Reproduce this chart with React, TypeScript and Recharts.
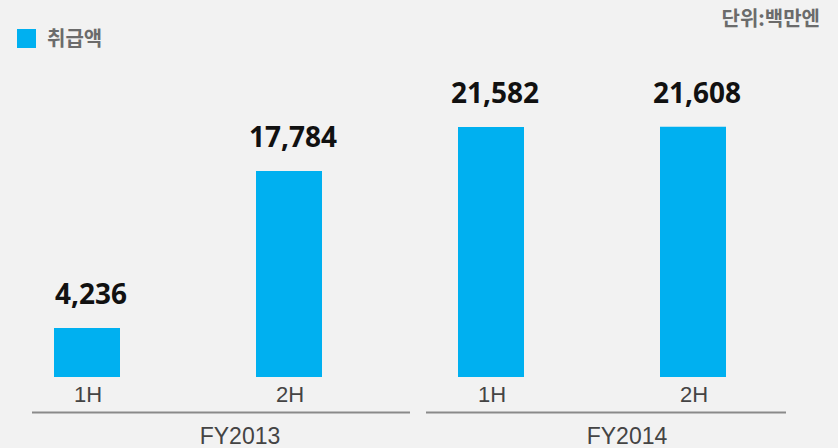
import { BarChart, Bar, XAxis, YAxis, LabelList } from "recharts";

const halves = ["1H", "2H", "1H", "2H"];
const fiscalYears = ["FY2013", "FY2013", "FY2014", "FY2014"];
const amounts = [4236, 17784, 21582, 21608];

const seriesName = "취급액";
const unitLabel = "단위:백만엔";

const data = halves.map((half, i) => ({
  key: `${fiscalYears[i]}-${half}`,
  half,
  fy: fiscalYears[i],
  amount: amounts[i],
}));

// where the group underline and label sit, relative to the group band centre
const groupRules = [
  { from: -156, to: 222, dx: 52 },
  { from: -166, to: 194, dx: 35 },
];

const BLUE = "#00b0f0";

function HalfTick(props: any) {
  const { x, y, index } = props;
  return (
    <text
      x={x + 1}
      y={y + 25}
      textAnchor="middle"
      fill="#444"
      fontSize={22}
      fontFamily="Liberation Sans, Arial, sans-serif"
    >
      {data[index]?.half}
    </text>
  );
}

function YearTick(props: any) {
  const { x, y, index, payload } = props;
  const rule = groupRules[index] || groupRules[0];
  return (
    <g>
      <line x1={x + rule.from} x2={x + rule.to} y1={y + 0.5} y2={y + 0.5} stroke="#8a8a8a" strokeWidth={2} />
      <text
        x={x + rule.dx}
        y={y + 32}
        textAnchor="middle"
        fill="#444"
        fontSize={23}
        fontFamily="Liberation Sans, Arial, sans-serif"
      >
        {payload.value}
      </text>
    </g>
  );
}

export default function App() {
  return (
    <div
      style={{
        position: "absolute",
        left: 0,
        top: 0,
        width: 838,
        height: 448,
        overflow: "hidden",
        background: "#f2f2f2",
      }}
    >
      <div style={{ position: "absolute", left: -14, top: 0 }}>
        <BarChart
          width={852}
          height={448}
          data={data}
          margin={{ top: 64.3, right: 44, left: 0, bottom: 0 }}
          barCategoryGap={68}
        >
          <XAxis
            dataKey="key"
            height={35}
            axisLine={false}
            tickLine={false}
            tickSize={0}
            tickMargin={0}
            interval={0}
            tick={<HalfTick />}
          />
          <XAxis
            xAxisId="fy"
            dataKey="fy"
            allowDuplicatedCategory={false}
            height={36}
            axisLine={false}
            tickLine={false}
            tickSize={0}
            tickMargin={0}
            interval={0}
            tick={<YearTick />}
          />
          <YAxis hide domain={[0, 27000]} />
          <Bar dataKey="amount" fill={BLUE} isAnimationActive={false}>
            <LabelList
              dataKey="amount"
              position="top"
              offset={24}
              dx={4}
              formatter={(v: any) => Number(v).toLocaleString("en-US")}
              fill="#111"
              fontSize={28}
              fontWeight={700}
              fontFamily="Noto Sans, sans-serif"
            />
          </Bar>
        </BarChart>
      </div>
      <div style={{ position: "absolute", left: 17, top: 29, width: 19, height: 19, background: BLUE }} />
      <div
        style={{
          position: "absolute",
          left: 47,
          top: 28,
          fontSize: 20,
          lineHeight: "20px",
          fontWeight: 700,
          color: "#6b6b6b",
          fontFamily: "Noto Sans CJK KR, sans-serif",
        }}
      >
        {seriesName}
      </div>
      <div
        style={{
          position: "absolute",
          right: 18,
          top: 8,
          fontSize: 20,
          lineHeight: "20px",
          fontWeight: 700,
          color: "#6b6b6b",
          fontFamily: "Noto Sans CJK KR, sans-serif",
        }}
      >
        {unitLabel}
      </div>
    </div>
  );
}
